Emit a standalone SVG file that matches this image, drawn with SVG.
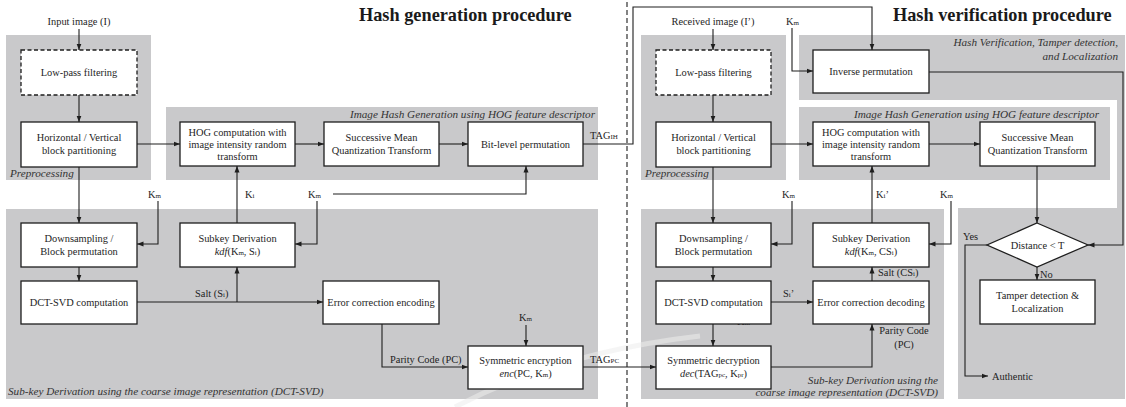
<svg xmlns="http://www.w3.org/2000/svg" width="1126" height="407" viewBox="0 0 1126 407">
  <style>
    text { font-family: "Liberation Serif", "Times New Roman", serif; font-size: 10.4px; fill: #1e1e1e; }
    .c { text-anchor: middle; }
    .e { text-anchor: end; }
    .it { font-style: italic; font-size: 11.2px; fill: #333; }
    .ttl { font-weight: bold; font-size: 18.3px; fill: #1a1a1a; }
    .sub { font-size: 7px; }
    .reg { fill: #c9c9cb; }
    .box { fill: #fff; stroke: #1e1e1e; stroke-width: 1.3; }
    .dsh { stroke-dasharray: 4 2.5; }
    .ln { fill: none; stroke: #1e1e1e; stroke-width: 1.1; }
    .arr { marker-end: url(#ah); }
    .div { fill: none; stroke: #1e1e1e; stroke-width: 1.1; stroke-dasharray: 5 3; }
  </style>
  <defs>
    <marker id="ah" markerUnits="userSpaceOnUse" markerWidth="7" markerHeight="6" refX="6.5" refY="3" orient="auto">
      <path d="M0,0.5 L6.5,3 L0,5.5 Z" fill="#1e1e1e"/>
    </marker>
  </defs>

  <rect width="1126" height="407" fill="#fff"/>

  <!-- shaded stage regions -->
  <g id="regions">
    <rect class="reg" x="6" y="35" width="145" height="145"/>
    <rect class="reg" x="166" y="107" width="432" height="73"/>
    <rect class="reg" x="6" y="209" width="592" height="190"/>
    <rect class="reg" x="641" y="35" width="145" height="145"/>
    <path class="reg" d="M799,35 H1125 V399 H958 V208 H1117 V100 H799 Z"/>
    <rect class="reg" x="799" y="107" width="311" height="73"/>
    <rect class="reg" x="641" y="209" width="303" height="190"/>
  </g>

  <!-- faint swoosh in the lower middle -->
  <path d="M455,407 Q560,352 700,336" fill="none" stroke="#ececec" stroke-width="5" opacity="0.55"/>

  <g id="region-labels">
    <text class="ttl" x="359" y="21">Hash generation procedure</text>
    <text class="ttl" x="893" y="21">Hash verification procedure</text>
    <text class="it" x="10" y="177">Preprocessing</text>
    <text class="it" x="645" y="177">Preprocessing</text>
    <text class="it e" x="595" y="118">Image Hash Generation using HOG feature descriptor</text>
    <text class="it e" x="1099" y="118">Image Hash Generation using HOG feature descriptor</text>
    <text class="it" x="8" y="395">Sub-key Derivation using the coarse image representation (DCT-SVD)</text>
    <text class="it e" x="938" y="384">Sub-key Derivation using the</text>
    <text class="it e" x="938" y="396">coarse image representation (DCT-SVD)</text>
    <text class="it e" x="1118" y="46">Hash Verification, Tamper detection,</text>
    <text class="it e" x="1118" y="60">and Localization</text>
  </g>

  <!-- divider between generation and verification -->
  <line class="div" x1="627" y1="2" x2="627" y2="407"/>

  <g id="connectors">
    <!-- generation side -->
    <path class="ln arr" d="M79,29 V50"/>
    <path class="ln arr" d="M79,95 V122"/>
    <path class="ln arr" d="M137,144 H180"/>
    <path class="ln arr" d="M295,144 H324"/>
    <path class="ln arr" d="M439,144 H468"/>
    <path class="ln arr" d="M79,167 V223"/>
    <path class="ln arr" d="M79,267 V281"/>
    <path class="ln arr" d="M158,201 V244 H137"/>
    <path class="ln arr" d="M237,223 V166"/>
    <path class="ln arr" d="M333,194 H526 V166"/>
    <path class="ln arr" d="M317,201 V244 H295"/>
    <path class="ln arr" d="M137,302 H323"/>
    <path class="ln arr" d="M237,302 V267"/>
    <path class="ln arr" d="M382,324 V367 H468"/>
    <path class="ln arr" d="M526,325 V346"/>
    <path class="ln arr" d="M583,144 H633 V7 H872 V50"/>
    <path class="ln arr" d="M583,367 H656"/>
    <!-- verification side -->
    <path class="ln arr" d="M713,29 V50"/>
    <path class="ln arr" d="M713,95 V122"/>
    <path class="ln arr" d="M792,28 V71 H813"/>
    <path class="ln arr" d="M771,144 H813"/>
    <path class="ln arr" d="M929,144 H980"/>
    <path class="ln arr" d="M713,167 V223"/>
    <path class="ln arr" d="M713,267 V281"/>
    <path class="ln arr" d="M792,201 V244 H771"/>
    <path class="ln arr" d="M771,302 H813"/>
    <path class="ln arr" d="M872,281 V267"/>
    <path class="ln arr" d="M872,223 V166"/>
    <path class="ln arr" d="M951,201 V244 H929"/>
    <path class="ln arr" d="M733,321 H713 V346"/>
    <path class="ln arr" d="M771,367 H872 V324"/>
    <path class="ln arr" d="M929,72 H1123 V245 H1088"/>
    <path class="ln arr" d="M1037,166 V223"/>
    <path class="ln arr" d="M1037,267 V280"/>
    <path class="ln arr" d="M987,245 H965 V376 H988"/>
  </g>

  <g id="connector-labels">
    <text class="c" x="79" y="25">Input image (I)</text>
    <text class="c" x="713" y="25">Received image (I’)</text>
    <text x="590" y="139">TAG<tspan class="sub">IH</tspan></text>
    <text x="590" y="363">TAG<tspan class="sub">PC</tspan></text>
    <text x="148" y="198">K<tspan class="sub">m</tspan></text>
    <text x="245" y="198">K<tspan class="sub">i</tspan></text>
    <text x="308" y="198">K<tspan class="sub">m</tspan></text>
    <text x="519" y="321">K<tspan class="sub">m</tspan></text>
    <text x="195" y="297">Salt (S<tspan class="sub">i</tspan>)</text>
    <text x="390" y="363">Parity Code (PC)</text>
    <text x="786" y="25">K<tspan class="sub">m</tspan></text>
    <text x="782" y="198">K<tspan class="sub">m</tspan></text>
    <text x="876" y="198">K<tspan class="sub">i</tspan>’</text>
    <text x="940" y="198">K<tspan class="sub">m</tspan></text>
    <text x="783" y="297">S<tspan class="sub">i</tspan>’</text>
    <text x="878" y="276">Salt (CS<tspan class="sub">i</tspan>)</text>
    <text x="737" y="325">K<tspan class="sub">m</tspan></text>
    <text class="c" x="904" y="334">Parity Code</text>
    <text class="c" x="904" y="348">(PC)</text>
    <text x="963" y="240">Yes</text>
    <text x="1040" y="278">No</text>
    <text x="992" y="380">Authentic</text>
  </g>

  <!-- generation nodes -->
  <g id="lpf-gen">
    <rect class="box dsh" x="21" y="50" width="116" height="45"/>
    <text class="c" x="79" y="76">Low-pass filtering</text>
  </g>
  <g id="partition-gen">
    <rect class="box" x="21" y="122" width="116" height="45"/>
    <text class="c" x="79" y="141">Horizontal / Vertical</text>
    <text class="c" x="79" y="154">block partitioning</text>
  </g>
  <g id="hog-gen">
    <rect class="box" x="180" y="122" width="115" height="44"/>
    <text class="c" x="237.5" y="135.5">HOG computation with</text>
    <text class="c" x="237.5" y="147.5">image intensity random</text>
    <text class="c" x="237.5" y="159.5">transform</text>
  </g>
  <g id="smqt-gen">
    <rect class="box" x="324" y="122" width="115" height="44"/>
    <text class="c" x="381.5" y="140.5">Successive Mean</text>
    <text class="c" x="381.5" y="153.5">Quantization Transform</text>
  </g>
  <g id="bitperm-gen">
    <rect class="box" x="468" y="122" width="115" height="44"/>
    <text class="c" x="525.5" y="147.5">Bit-level permutation</text>
  </g>
  <g id="downsample-gen">
    <rect class="box" x="21" y="223" width="116" height="44"/>
    <text class="c" x="79" y="241.5">Downsampling /</text>
    <text class="c" x="79" y="254.5">Block permutation</text>
  </g>
  <g id="dctsvd-gen">
    <rect class="box" x="21" y="281" width="116" height="43"/>
    <text class="c" x="79" y="306">DCT-SVD computation</text>
  </g>
  <g id="subkey-gen">
    <rect class="box" x="180" y="223" width="115" height="44"/>
    <text class="c" x="237.5" y="241.5">Subkey Derivation</text>
    <text class="c" x="237.5" y="254.5"><tspan font-style="italic">kdf</tspan>(K<tspan class="sub">m</tspan>, S<tspan class="sub">i</tspan>)</text>
  </g>
  <g id="ecc-enc">
    <rect class="box" x="323" y="281" width="116" height="43"/>
    <text class="c" x="381" y="306">Error correction encoding</text>
  </g>
  <g id="sym-enc">
    <rect class="box" x="468" y="346" width="115" height="43"/>
    <text class="c" x="525.5" y="364">Symmetric encryption</text>
    <text class="c" x="525.5" y="377"><tspan font-style="italic">enc</tspan>(PC, K<tspan class="sub">m</tspan>)</text>
  </g>

  <!-- verification nodes -->
  <g id="lpf-ver">
    <rect class="box dsh" x="656" y="50" width="115" height="45"/>
    <text class="c" x="713.5" y="76">Low-pass filtering</text>
  </g>
  <g id="partition-ver">
    <rect class="box" x="656" y="122" width="115" height="45"/>
    <text class="c" x="713.5" y="141">Horizontal / Vertical</text>
    <text class="c" x="713.5" y="154">block partitioning</text>
  </g>
  <g id="inverse-perm">
    <rect class="box" x="813" y="50" width="116" height="43"/>
    <text class="c" x="871" y="75">Inverse permutation</text>
  </g>
  <g id="hog-ver">
    <rect class="box" x="813" y="122" width="116" height="44"/>
    <text class="c" x="871" y="135.5">HOG computation with</text>
    <text class="c" x="871" y="147.5">image intensity random</text>
    <text class="c" x="871" y="159.5">transform</text>
  </g>
  <g id="smqt-ver">
    <rect class="box" x="980" y="122" width="115" height="44"/>
    <text class="c" x="1037.5" y="140.5">Successive Mean</text>
    <text class="c" x="1037.5" y="153.5">Quantization Transform</text>
  </g>
  <g id="downsample-ver">
    <rect class="box" x="656" y="223" width="115" height="44"/>
    <text class="c" x="713.5" y="241.5">Downsampling /</text>
    <text class="c" x="713.5" y="254.5">Block permutation</text>
  </g>
  <g id="dctsvd-ver">
    <rect class="box" x="656" y="281" width="115" height="43"/>
    <text class="c" x="713.5" y="306">DCT-SVD computation</text>
  </g>
  <g id="subkey-ver">
    <rect class="box" x="813" y="223" width="116" height="44"/>
    <text class="c" x="871" y="241.5">Subkey Derivation</text>
    <text class="c" x="871" y="254.5"><tspan font-style="italic">kdf</tspan>(K<tspan class="sub">m</tspan>, CS<tspan class="sub">i</tspan>)</text>
  </g>
  <g id="ecc-dec">
    <rect class="box" x="813" y="281" width="116" height="43"/>
    <text class="c" x="871" y="306">Error correction decoding</text>
  </g>
  <g id="sym-dec">
    <rect class="box" x="656" y="346" width="115" height="43"/>
    <text class="c" x="713.5" y="364">Symmetric decryption</text>
    <text class="c" x="713.5" y="377"><tspan font-style="italic">dec</tspan>(TAG<tspan class="sub">pc</tspan>, K<tspan class="sub">pr</tspan>)</text>
  </g>
  <g id="distance-check">
    <polygon class="box" points="1037,223 1088,245 1037,267 987,245"/>
    <text class="c" x="1037.5" y="249">Distance &lt; T</text>
  </g>
  <g id="tamper">
    <rect class="box" x="980" y="280" width="115" height="44"/>
    <text class="c" x="1037.5" y="298.5">Tamper detection &amp;</text>
    <text class="c" x="1037.5" y="311.5">Localization</text>
  </g>
</svg>
